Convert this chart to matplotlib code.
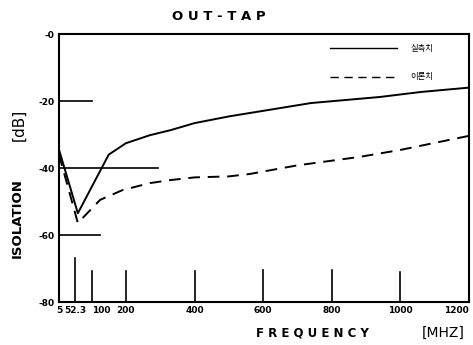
import matplotlib
matplotlib.use("Agg")
import matplotlib.pyplot as plt
import matplotlib.transforms as mtransforms

freq_meas = [5, 60, 150, 200, 270, 330, 400, 500, 740, 940, 1060, 1200]
iso_meas = [-34.5, -53.5, -36.0, -32.6, -30.2, -28.7, -26.6, -24.6, -20.6, -18.8, -17.3, -16.0]

freq_theo = [5, 60, 125, 190, 270, 330, 400, 500, 560, 700, 880, 1000, 1200]
iso_theo = [-36.0, -56.4, -49.5, -46.6, -44.5, -43.6, -42.8, -42.5, -41.8, -39.2, -36.7, -34.6, -30.4]

x_ticks = [5, 52.3, 100, 200, 400, 600, 800, 1000, 1200]
x_labels = ["5", "52.3", "100", "200", "400", "600", "800", "1000", "1200"]
y_ticks = [0, -20, -40, -60, -80]
y_labels = ["-0", "-20", "-40", "-60", "-80"]

# reference marks drawn inside the frame in the original
h_marks = [(-20, 100), (-40, 295), (-60, 125)]
v_marks = [(52.3, -67), (100, -70.7), (200, -70.7), (400, -70.7),
           (600, -70.5), (800, -70.3), (1000, -71)]

KR = ["Noto Sans CJK KR", "DejaVu Sans"]

fig = plt.figure(figsize=(4.73, 3.45), dpi=100)
ax = fig.add_axes([0.1247, 0.1246, 0.8668, 0.7768])

ax.plot(freq_meas, iso_meas, color="black", lw=1.4)
ax.plot(freq_theo, iso_theo, color="black", lw=1.4, dashes=(6, 4))

for y, xend in h_marks:
    ax.plot([5, xend], [y, y], color="black", lw=1.2)
for x, ytop in v_marks:
    ax.plot([x, x], [-80, ytop], color="black", lw=1.2)

ax.set_xlim(5, 1200)
ax.set_ylim(-80, 0)
ax.set_xticks(x_ticks)
ax.set_xticklabels(x_labels)
ax.set_yticks(y_ticks)
ax.set_yticklabels(y_labels)
ax.tick_params(length=0, labelsize=6.5, pad=3)
for lab in ax.get_xticklabels() + ax.get_yticklabels():
    lab.set_fontweight("bold")
xl = ax.get_xticklabels()
# nudge "100" right so it clears "52.3"; keep "1200" inside the frame
xl[2].set_transform(xl[2].get_transform() +
                    mtransforms.ScaledTranslation(10 / 100, 0, fig.dpi_scale_trans))
xl[-1].set_horizontalalignment("right")
for sp in ax.spines.values():
    sp.set_linewidth(1.5)

# legend drawn by hand to match the layout
ax.plot([795, 990], [-4.3, -4.3], color="black", lw=1.0)
ax.text(1030, -4.3, "실측치", fontsize=6, va="center", family=KR)
ax.plot([795, 990], [-12.8, -12.8], color="black", lw=1.0, dashes=(6, 4))
ax.text(1030, -12.8, "이론치", fontsize=6, va="center", family=KR)

fig.text(0.463, 0.952, "O U T - T A P", ha="center", va="center", fontsize=9.5, fontweight="bold")
fig.text(0.66, 0.035, "F R E Q U E N C Y", ha="center", va="center", fontsize=8.5, fontweight="bold")
fig.text(0.937, 0.035, "[MHZ]", ha="center", va="center", fontsize=10)
fig.text(0.036, 0.368, "ISOLATION", ha="center", va="center", rotation=90, fontsize=9.5, fontweight="bold")
fig.text(0.040, 0.638, "[dB]", ha="center", va="center", rotation=90, fontsize=11)

fig.savefig("out.png", dpi=100)
